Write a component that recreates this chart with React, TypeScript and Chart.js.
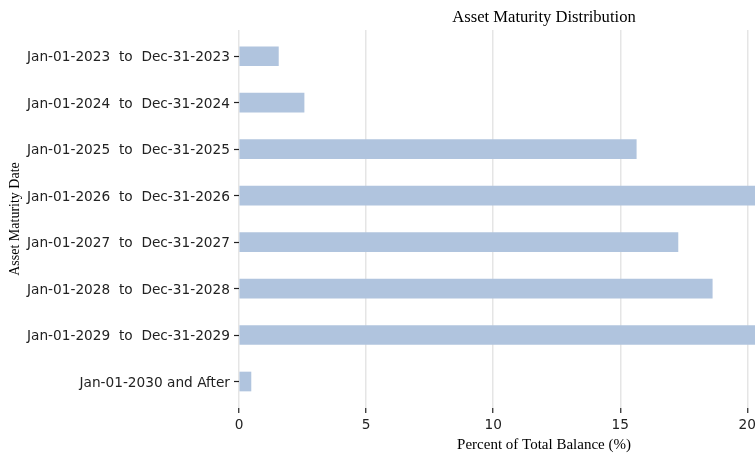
import { useEffect, useRef } from "react";
import { Chart, registerables } from "chart.js";

Chart.register(...registerables);

const categories = [
  "Jan-01-2023  to  Dec-31-2023",
  "Jan-01-2024  to  Dec-31-2024",
  "Jan-01-2025  to  Dec-31-2025",
  "Jan-01-2026  to  Dec-31-2026",
  "Jan-01-2027  to  Dec-31-2027",
  "Jan-01-2028  to  Dec-31-2028",
  "Jan-01-2029  to  Dec-31-2029",
  "Jan-01-2030 and After",
];
const values = [1.55, 2.56, 15.63, 21.8, 17.27, 18.62, 21.2, 0.47];
const xTicks = [0, 5, 10, 15, 20];
const titleText = "Asset Maturity Distribution";
const xTitle = "Percent of Total Balance (%)";
const yTitle = "Asset Maturity Date";

const SERIF = "'Liberation Serif', 'Times New Roman', serif";
const SANS = "'DejaVu Sans', sans-serif";

export default function App() {
  const ref = useRef<HTMLCanvasElement>(null);
  useEffect(() => {
    const chart = new Chart(ref.current!, {
      type: "bar",
      data: {
        datasets: [
          {
            data: values.map((v, i) => ({ x: v, y: i })),
            backgroundColor: "#b0c4de",
            borderWidth: 0,
            barThickness: 19,
          },
        ],
      },
      options: {
        indexAxis: "y",
        responsive: false,
        animation: false,
        layout: { padding: { right: 1 } },
        plugins: {
          legend: { display: false },
          tooltip: { enabled: false },
          title: {
            display: true,
            text: titleText,
            fullSize: false,
            color: "#000",
            font: { family: SERIF, size: 16.6, weight: "normal" },
            padding: { top: 7.3, bottom: 2.78 },
          },
        },
        scales: {
          x: {
            type: "linear",
            position: "bottom",
            min: 0,
            max: 24,
            z: 1,
            border: { display: false },
            grid: {
              color: "rgba(0,0,0,0.1)",
              lineWidth: 1.5,
              tickColor: "#222",
              tickWidth: 1.2,
              tickLength: 5,
            },
            ticks: {
              stepSize: 5,
              includeBounds: false,
              padding: 4.5,
              color: "#222",
              font: { family: SANS, size: 13.7 },
            },
            afterBuildTicks: (s: any) => {
              s.ticks = xTicks.map((v) => ({ value: v }));
            },
            afterFit: (s: any) => {
              s.height = 46;
            },
            title: {
              display: true,
              text: xTitle,
              color: "#000",
              font: { family: SERIF, size: 15, weight: "normal" },
              padding: { top: 0, bottom: 0 },
            },
          },
          y: {
            type: "linear",
            reverse: true,
            min: -0.564,
            max: 7.57,
            offset: false,
            border: { display: false },
            grid: {
              offset: false,
              drawOnChartArea: false,
              tickColor: "#222",
              tickWidth: 1.2,
              tickLength: 5,
            },
            ticks: {
              autoSkip: false,
              padding: 4,
              labelOffset: 1.5,
              color: "#222",
              font: { family: SANS, size: 13.7 },
              callback: (v: any) => categories[Math.round(Number(v))] ?? "",
            },
            afterBuildTicks: (s: any) => {
              s.ticks = categories.map((_, i) => ({ value: i }));
            },
            afterFit: (s: any) => {
              s.width = 239;
            },
            title: {
              display: true,
              text: yTitle,
              color: "#000",
              font: { family: SERIF, size: 14, weight: "normal" },
              padding: { top: 6.5, bottom: 0 },
            },
          },
        },
      } as any,
    });
    return () => chart.destroy();
  }, []);

  return (
    <div
      style={{
        position: "fixed",
        left: 0,
        top: 0,
        width: 755,
        height: 454,
        overflow: "hidden",
        background: "#fff",
      }}
    >
      <canvas ref={ref} width={850} height={454} style={{ display: "block" }} />
    </div>
  );
}
